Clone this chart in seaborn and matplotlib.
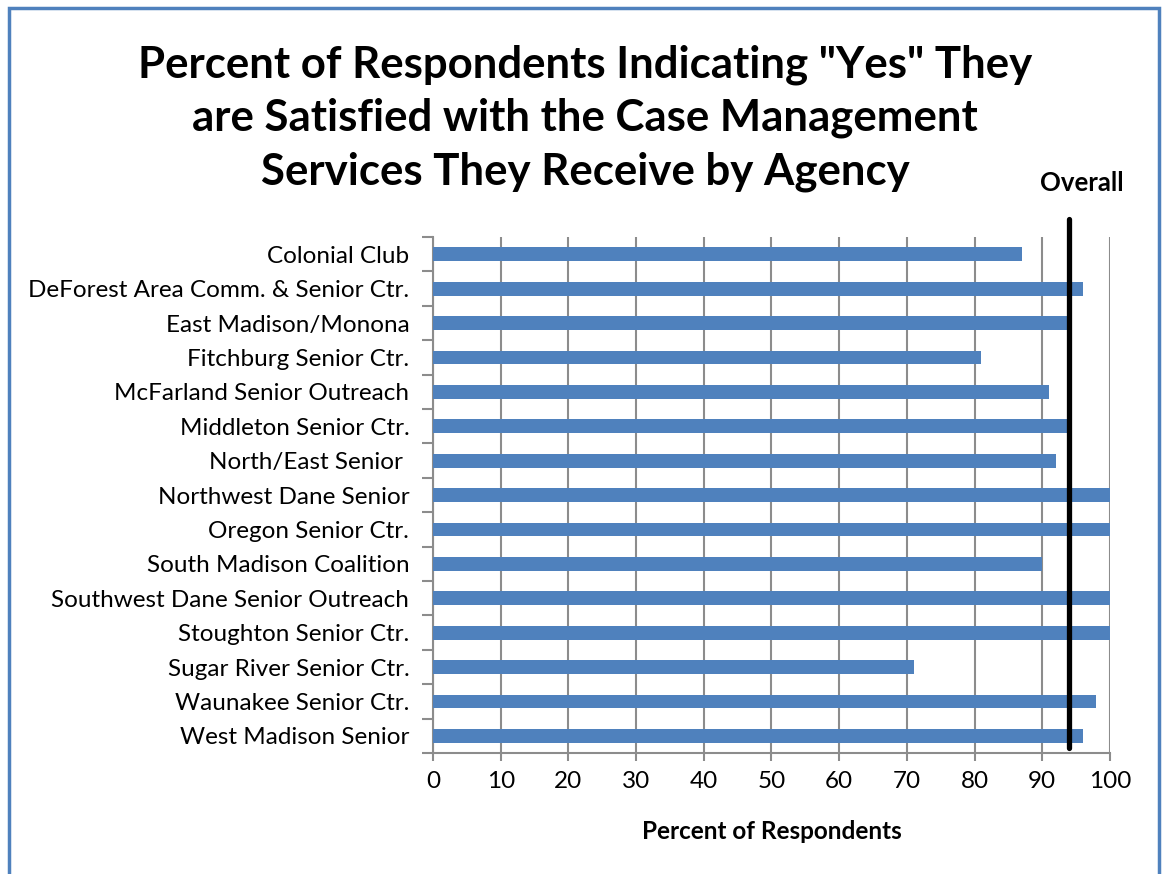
import matplotlib
matplotlib.use("Agg")
import matplotlib.pyplot as plt
import seaborn as sns
import pandas as pd
from matplotlib.patches import Rectangle

# Chart data
agencies = [
    "Colonial Club",
    "DeForest Area Comm. & Senior Ctr.",
    "East Madison/Monona",
    "Fitchburg Senior Ctr.",
    "McFarland Senior Outreach",
    "Middleton Senior Ctr.",
    "North/East Senior ",
    "Northwest Dane Senior",
    "Oregon Senior Ctr.",
    "South Madison Coalition",
    "Southwest Dane Senior Outreach",
    "Stoughton Senior Ctr.",
    "Sugar River Senior Ctr.",
    "Waunakee Senior Ctr.",
    "West Madison Senior",
]
pct_yes = [87, 96, 93.6, 81, 91, 93.6, 92, 100, 100, 90, 100, 100, 71, 98, 96]
overall = 94
x_ticks = [0, 10, 20, 30, 40, 50, 60, 70, 80, 90, 100]

df = pd.DataFrame({"Agency": agencies, "Percent": pct_yes})

sns.set_style("white")
plt.rcParams["font.family"] = ["Lato", "DejaVu Sans"]
plt.rcParams["text.color"] = "black"
plt.rcParams["xtick.labelcolor"] = "black"
plt.rcParams["ytick.labelcolor"] = "black"
plt.rcParams["axes.labelcolor"] = "black"

bar_color = "#4F81BD"
grid_color = "#8C8C8C"

fig = plt.figure(figsize=(11.63, 8.74), dpi=100)
ax = fig.add_axes([0.3723, 0.1384, 0.5821, 0.5904])

sns.barplot(data=df, x="Percent", y="Agency", orient="h", color=bar_color,
            width=0.4, saturation=1, linewidth=0, ax=ax, zorder=3)

ax.set_xlim(0, 100)
ax.set_ylim(len(agencies) - 0.5, -0.5)
ax.set_xticks(x_ticks)
ax.xaxis.grid(True, color=grid_color, linewidth=1.5, zorder=0)
ax.set_axisbelow(True)

# ticks between categories on the y axis
ax.set_yticks([i - 0.5 for i in range(len(agencies) + 1)], minor=True)
ax.tick_params(axis="y", which="major", length=0, pad=17, labelsize=17.5)
ax.tick_params(axis="y", which="minor", length=8, width=1.5, color=grid_color,
               direction="out", left=True)
ax.tick_params(axis="x", which="major", length=6, width=1.5, color=grid_color,
               direction="out", bottom=True, labelsize=17.5, pad=7)

for side in ["top", "right"]:
    ax.spines[side].set_visible(False)
for side in ["left", "bottom"]:
    ax.spines[side].set_color(grid_color)
    ax.spines[side].set_linewidth(1.5)

ax.set_ylabel("")
ax.set_xlabel("Percent of Respondents", fontsize=17.5, fontweight="bold", labelpad=20)

# overall reference line
ax.axvline(overall, ymin=0.01, ymax=1.035, color="black", linewidth=3.8,
           clip_on=False, zorder=5)
ax.annotate("Overall", xy=(overall, 1.105), xycoords=ax.get_xaxis_transform(),
            xytext=(12, 0), textcoords="offset pixels",
            ha="center", va="center", fontsize=18.5, fontweight="bold")

fig.text(0.503, 0.865,
         "Percent of Respondents Indicating \"Yes\" They\n"
         "are Satisfied with the Case Management\n"
         "Services They Receive by Agency",
         ha="center", va="center", fontsize=31.5, fontweight="bold", linespacing=1.4)

# blue outer border
fig.patches.append(Rectangle((9 / 1163, -0.05), 1150 / 1163, 1.05 - 8 / 874,
                             transform=fig.transFigure, fill=False,
                             edgecolor=bar_color, linewidth=2.5))

fig.savefig("out.png", dpi=100)
